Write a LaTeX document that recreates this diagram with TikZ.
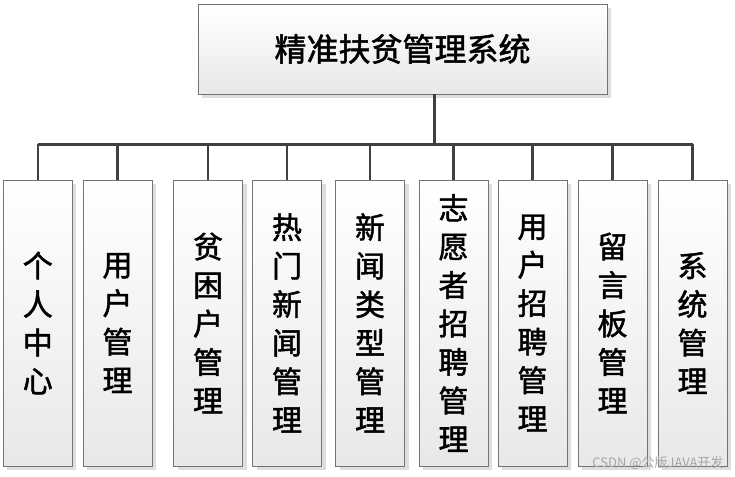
\documentclass[tikz,border=0pt]{standalone}
\usepackage{fontspec}
\newfontfamily\cjk[FakeBold=1.6]{Noto Sans CJK SC}
\newfontfamily\cjklight{Noto Sans CJK SC}
\usetikzlibrary{shadows}

\tikzset{
  sysbox/.style={draw=black!55, line width=0.8pt, top color=white, bottom color=black!9,
    drop shadow={shadow xshift=4pt, shadow yshift=-4pt, fill=black!13, opacity=1}},
  modbox/.style={sysbox, minimum width=69pt, minimum height=286pt, inner sep=0pt,
    align=center, font=\cjk\fontsize{30pt}{38.5pt}\selectfont},
  link/.style={draw=black!75, line width=2.2pt}
}

\begin{document}
\begin{tikzpicture}[x=1pt,y=-1pt]
  \useasboundingbox (0,0) rectangle (735,476);
  % root
  \node[sysbox, minimum width=409pt, minimum height=90pt, inner sep=0pt,
    font=\cjk\fontsize{32pt}{36pt}\selectfont] (top) at (402.5,49) {精准扶贫管理系统};
  % modules
  \foreach \n/\x/\t in {1/37.75/{个\\人\\中\\心}, 2/117.5/{用\\户\\管\\理},
      3/208/{贫\\困\\户\\管\\理}, 4/287/{热\\门\\新\\闻\\管\\理},
      5/370/{新\\闻\\类\\型\\管\\理}, 6/453.5/{志\\愿\\者\\招\\聘\\管\\理},
      7/532.5/{用\\户\\招\\聘\\管\\理}, 8/612.5/{留\\言\\板\\管\\理},
      9/692.5/{系\\统\\管\\理}}
    \node[modbox] (m\n) at (\x,323) {\t};
  % links
  \draw[link] ([xshift=32pt]top.south) -- ++(0,50) coordinate (bus);
  \draw[link] (bus -| m1.north) -- (bus -| m9.north);
  \foreach \n in {1,...,9} \draw[link] (bus -| m\n.north) -- (m\n.north);
  \node[text=black!35, font=\cjklight\fontsize{13pt}{15pt}\selectfont, anchor=east] (mark) at (727,463) {CSDN @公版JAVA开发};
\end{tikzpicture}
\end{document}
